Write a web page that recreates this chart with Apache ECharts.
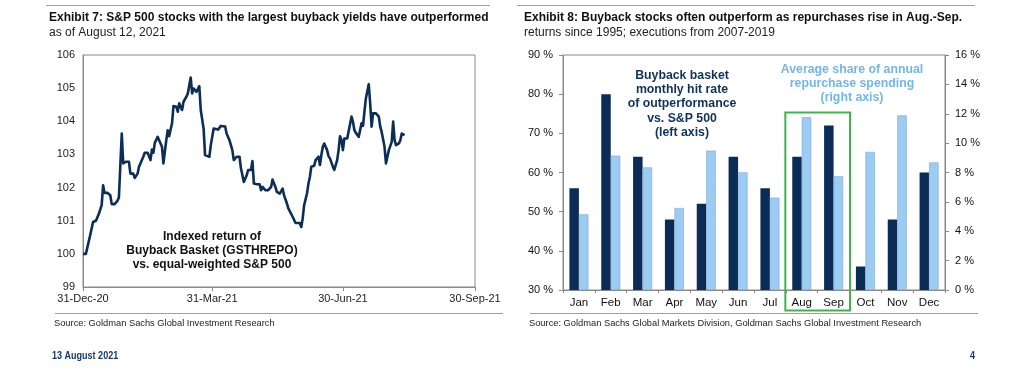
<!DOCTYPE html>
<html>
<head>
<meta charset="utf-8">
<script src="https://cdn.jsdelivr.net/npm/echarts@6/dist/echarts.min.js"></script>
<style>
html,body{margin:0;padding:0;background:#fff;}
#c{width:1024px;height:380px;}
</style>
</head>
<body>
<div id="c"></div>
<script>
// ---- Exhibit 7 data: days after 31-Dec-2020 and indexed relative return ----
const lineDays = [0,2,5,7,9,11,13,14,15,17,19,20,22,24,25,27,28,30,32,33,35,36,38,39,42,43,45,47,48,49,50,52,54,55,56,58,59,60,62,63,65,66,67,69,70,71,72,73,75,76,77,79,81,82,84,85,86,88,89,91,92,94,96,97,99,100,102,104,105,107,109,110,111,112,114,115,117,118,119,121,123,124,125,127,129,131,132,134,135,137,139,140,142,143,144,146,148,149,151,152,153,154,156,157,158,159,161,162,163,164,165,166,167,168,170,171,172,174,175,177,178,179,180,181,182,184,185,187,188,189,190,192,194,195,196,197,199,200,201,202,204,206,207,208,210,211,212,213,215,216,217,218,220,221,222,224];
const lineValues = [100.0,100.0,100.56,100.96,101.0,101.2,101.47,102.07,101.84,101.84,101.77,101.5,101.5,101.6,101.7,103.63,102.73,102.78,102.78,102.42,102.42,102.29,102.42,102.63,102.93,103.05,103.05,102.83,103.15,103.05,103.35,103.53,103.33,103.23,102.73,103.43,103.73,103.55,103.94,104.46,104.44,104.29,104.54,104.34,104.59,104.64,104.74,104.84,105.32,104.84,104.99,104.89,105.06,104.34,103.78,102.98,102.95,102.93,103.28,103.78,103.78,103.75,103.86,103.89,103.84,103.63,103.43,103.13,102.83,102.93,102.93,102.58,102.53,102.17,102.37,102.53,102.53,102.8,102.12,102.1,102.1,101.92,102.02,101.92,101.92,102.02,102.24,102.02,101.87,101.82,101.97,101.77,101.52,101.37,101.32,101.12,100.93,100.91,100.93,100.81,101.07,101.47,101.82,102.12,102.32,102.63,102.66,102.83,102.83,102.93,102.68,102.98,103.23,103.33,103.13,102.95,102.88,102.63,102.53,102.83,103.13,103.55,103.43,103.13,103.48,103.48,103.51,104.14,103.99,103.73,103.65,103.53,103.94,103.86,104.29,104.69,105.12,104.54,103.84,104.24,104.24,104.14,103.84,103.68,103.23,102.73,102.93,103.13,103.38,103.99,103.43,103.28,103.33,103.43,103.63,103.58];
const lineTickDays = [0, 90, 181, 273];
const lineTickLabels = ['31-Dec-20','31-Mar-21','30-Jun-21','30-Sep-21'];

// ---- Exhibit 8 data ----
const months = ['Jan','Feb','Mar','Apr','May','Jun','Jul','Aug','Sep','Oct','Nov','Dec'];
const hitRate = [56,80,64,48,52,64,56,64,72,36,48,60];            // left axis, %
const repurchaseShare = [5.15,9.15,8.35,5.58,9.49,8.01,6.29,11.76,7.74,9.4,11.89,8.69]; // right axis, %

const FONT = "'Liberation Sans', Arial, sans-serif";
const lineData = lineDays.map((d, i) => [d, lineValues[i]]);

const AX = '#8a8a8a';
const chart = echarts.init(document.getElementById('c'), null, {renderer: 'canvas'});

function txt(x, y, text, style, extra) {
  return Object.assign({type: 'text', x: x, y: y, silent: true,
    style: Object.assign({text: text, fontFamily: FONT, fontSize: 12, fill: '#111',
      textAlign: 'left', textVerticalAlign: 'middle'}, style)}, extra || {});
}
function hline(x1, x2, y, color) {
  return {type: 'line', silent: true, shape: {x1: x1, y1: y, x2: x2, y2: y},
    style: {stroke: color || '#9a9a9a', lineWidth: 1}};
}

const option = {
  animation: false,
  backgroundColor: '#fff',
  textStyle: {fontFamily: FONT},
  grid: [
    {left: 83, top: 55, width: 392, height: 232, show: true, borderColor: AX, borderWidth: 1, backgroundColor: 'transparent'},
    {left: 563, top: 55, width: 382, height: 235, show: true, borderColor: AX, borderWidth: 1, backgroundColor: 'transparent'}
  ],
  xAxis: [
    {type: 'value', gridIndex: 0, min: lineTickDays[0], max: lineTickDays[3],
      axisLine: {show: true, lineStyle: {color: AX}},
      axisTick: {show: true, customValues: lineTickDays, length: 4, lineStyle: {color: AX}},
      axisLabel: {customValues: lineTickDays, color: '#222', fontSize: 11, margin: 6, fontFamily: FONT,
        showMinLabel: true, showMaxLabel: true,
        formatter: function (v) { const i = lineTickDays.indexOf(v); return i >= 0 ? lineTickLabels[i] : ''; }},
      splitLine: {show: false}},
    {type: 'category', gridIndex: 1, data: months,
      axisLine: {show: true, lineStyle: {color: AX}},
      axisTick: {show: true, alignWithLabel: false, length: 3, lineStyle: {color: AX}},
      axisLabel: {color: '#111', fontSize: 11.5, margin: 7, fontFamily: FONT},
      splitLine: {show: false}}
  ],
  yAxis: [
    {type: 'value', gridIndex: 0, min: 99, max: 106, interval: 1,
      axisLine: {show: true, lineStyle: {color: AX}},
      axisTick: {show: false},
      axisLabel: {color: '#222', fontSize: 11, margin: 8, fontFamily: FONT},
      splitLine: {show: false}},
    {type: 'value', gridIndex: 1, min: 30, max: 90, interval: 10, position: 'left',
      axisLine: {show: true, lineStyle: {color: AX}},
      axisTick: {show: true, length: 4, lineStyle: {color: AX}},
      axisLabel: {color: '#111', fontSize: 11, margin: 10, fontFamily: FONT, formatter: '{value} %'},
      splitLine: {show: false}},
    {type: 'value', gridIndex: 1, min: 0, max: 16, interval: 2, position: 'right',
      axisLine: {show: true, lineStyle: {color: AX}},
      axisTick: {show: true, length: 4, lineStyle: {color: AX}},
      axisLabel: {color: '#111', fontSize: 11, margin: 10, fontFamily: FONT, formatter: '{value} %'},
      splitLine: {show: false}}
  ],
  series: [
    {type: 'line', xAxisIndex: 0, yAxisIndex: 0, data: lineData, showSymbol: false,
      lineStyle: {color: '#0c2e56', width: 2.6, join: 'round'}},
    {type: 'bar', xAxisIndex: 1, yAxisIndex: 1, data: hitRate, barWidth: 9.5, barGap: '0%',
      itemStyle: {color: '#0b2d55'}},
    {type: 'bar', xAxisIndex: 1, yAxisIndex: 2, data: repurchaseShare, barWidth: 9.5, barGap: '0%',
      itemStyle: {color: '#9dcbf1', borderColor: '#78acdb', borderWidth: 0.6}}
  ]
};
chart.setOption(option);

// Green highlight box around Aug-Sep, positioned through the category scale
const pAug = chart.convertToPixel({xAxisIndex: 1}, 'Aug');
const pSep = chart.convertToPixel({xAxisIndex: 1}, 'Sep');
const band = pSep - pAug;
const boxTop = chart.convertToPixel({yAxisIndex: 1}, 75.3);

chart.setOption({graphic: [
  hline(46, 490, 5.5, '#a0a0a0'),
  hline(517, 975, 5.5, '#a0a0a0'),
  hline(55, 503, 313.5, '#a0a0a0'),
  hline(530, 978, 313.5, '#a0a0a0'),
  txt(49, 17.5, 'Exhibit 7: S&P 500 stocks with the largest buyback yields have outperformed', {fontWeight: 'bold', fontSize: 12, fill: '#111'}),
  txt(49, 32.5, 'as of August 12, 2021', {fontSize: 12, fill: '#222'}),
  txt(524, 17.5, 'Exhibit 8: Buyback stocks often outperform as repurchases rise in Aug.-Sep.', {fontWeight: 'bold', fontSize: 12, fill: '#111'}),
  txt(524, 32.5, 'returns since 1995; executions from 2007-2019', {fontSize: 12, fill: '#222'}),
  txt(212, 250.5, 'Indexed return of\nBuyback Basket (GSTHREPO)\nvs. equal-weighted S&P 500', {fontWeight: 'bold', fontSize: 12, fill: '#111', textAlign: 'center', lineHeight: 13.8}),
  txt(682, 104, 'Buyback basket\nmonthly hit rate\nof outperformance\nvs. S&P 500\n(left axis)', {fontWeight: 'bold', fontSize: 12.3, fill: '#0f325c', textAlign: 'center', lineHeight: 14.2}),
  txt(852, 84, 'Average share of annual\nrepurchase spending\n(right axis)', {fontWeight: 'bold', fontSize: 12.3, fill: '#72b6ea', textAlign: 'center', lineHeight: 13.9}),
  txt(54, 323.5, 'Source: Goldman Sachs Global Investment Research', {fontSize: 9.3, fill: '#222'}),
  txt(529, 323.5, 'Source: Goldman Sachs Global Markets Division, Goldman Sachs Global Investment Research', {fontSize: 9.3, fill: '#222'}),
  txt(52, 355.5, '13 August 2021', {fontWeight: 'bold', fontSize: 11, fill: '#143a68'}, {scaleX: 0.82}),
  txt(970, 355.5, '4', {fontWeight: 'bold', fontSize: 11, fill: '#143a68'}, {scaleX: 0.82}),
  {type: 'rect', silent: true, z: 10,
    shape: {x: pAug - band / 2 - 0.5, y: boxTop, width: band * 2 + 1, height: 310.5 - boxTop},
    style: {fill: 'none', stroke: '#3db54a', lineWidth: 2}}
]});
</script>
</body>
</html>
